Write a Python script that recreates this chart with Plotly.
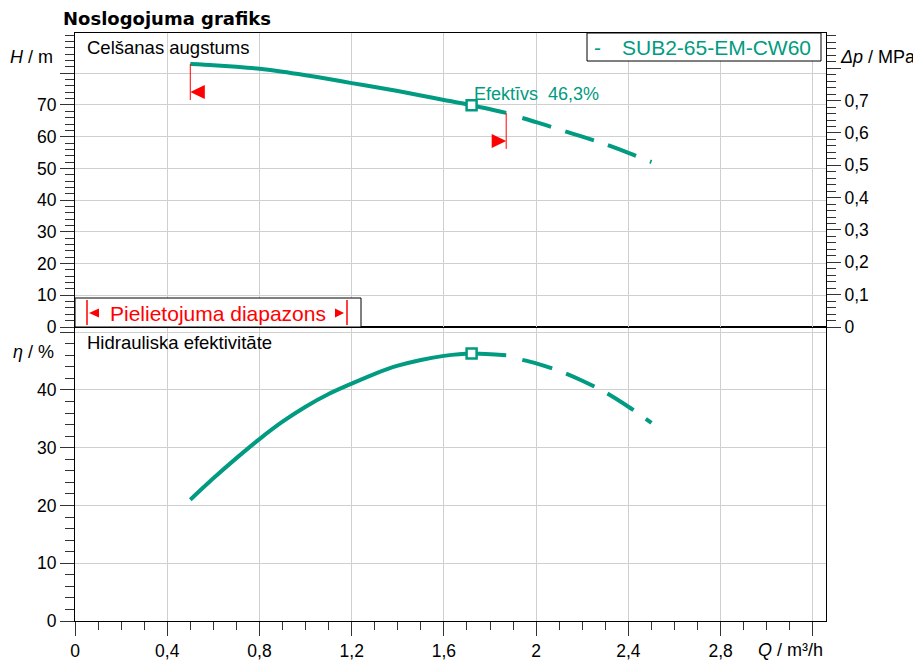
import plotly.graph_objects as go

# ---------------- data ----------------
q_solid = [0.5, 0.6, 0.7, 0.8, 0.9, 1.0, 1.1, 1.2, 1.3, 1.4, 1.5, 1.6, 1.72, 1.87]
h_solid = [82.9, 82.55, 82.05, 81.4, 80.5, 79.4, 78.2, 76.9, 75.7, 74.4, 73.0, 71.6, 69.9, 67.5]
eta_solid = [21.0, 24.7, 28.2, 31.5, 34.5, 37.1, 39.3, 41.1, 42.8, 44.2, 45.2, 45.9, 46.3, 46.0]

q_dash = [1.94, 2.0, 2.1, 2.2, 2.3, 2.4, 2.5]
h_dash = [65.9, 64.6, 62.3, 60.0, 57.6, 54.9, 52.0]
eta_dash = [45.2, 44.6, 43.3, 41.6, 39.6, 37.1, 34.3]

bep_q = [1.72]
bep_h = [69.9]
bep_eta = [46.3]

series_name = "SUB2-65-EM-CW60"
title_text = "Noslogojuma grafiks"

x_tickvals = [0, 0.4, 0.8, 1.2, 1.6, 2.0, 2.4, 2.8, 3.2]
x_ticktext = ["0", "0,4", "0,8", "1,2", "1,6", "2", "2,4", "2,8", ""]
h_tickvals = [0, 10, 20, 30, 40, 50, 60, 70, 80]
h_ticktext = ["0", "10", "20", "30", "40", "50", "60", "70", ""]
p_tickvals = [0, 0.1, 0.2, 0.3, 0.4, 0.5, 0.6, 0.7, 0.8]
p_ticktext = ["0", "0,1", "0,2", "0,3", "0,4", "0,5", "0,6", "0,7", ""]
eta_tickvals = [0, 10, 20, 30, 40, 50]
eta_ticktext = ["0", "10", "20", "30", "40", ""]

# ---------------- geometry (reference pixel frame) ----------------
W, H = 921, 663
OFF = 8                      # page body margin of the browser
FW, FH = W - OFF, H - OFF    # figure size so that it ends at the window edge
PL, PR, PT, PB = 75, 826, 33, 621
X_MAX = 3.257
H_MAX = 92.7
ETA_MAX = 50.9
M_PER_MPA = 101.97

TEAL = "#009b80"
RED = "#ff0000"
GRID = "#cfcfcf"
FONT = "Liberation Sans, Arial, sans-serif"
TICKF = dict(family=FONT, size=17.5, color="#000")


def fx(px):
    return (px - PL) / (PR - PL)


def fy(py):
    return (PB - py) / (PB - PT)


dq = X_MAX / (PR - PL)          # data units per px (x)
dh = H_MAX / ((PB - PT) / 2)    # data units per px (top y)

fig = go.Figure()

line_solid = dict(color=TEAL, width=4, shape="spline", smoothing=0.8)
bep_marker = dict(symbol="square", size=10, color="white", line=dict(color=TEAL, width=2.5))

# top: head
fig.add_trace(go.Scatter(x=q_solid, y=h_solid, xaxis="x2", yaxis="y2", mode="lines",
                         line=line_solid, showlegend=False, hoverinfo="skip"))
fig.add_trace(go.Scatter(x=q_dash, y=h_dash, xaxis="x2", yaxis="y2", mode="lines",
                         line=dict(line_solid, dash="30px,15px"), showlegend=False, hoverinfo="skip"))
fig.add_trace(go.Scatter(x=bep_q, y=bep_h, xaxis="x2", yaxis="y2", mode="markers",
                         marker=bep_marker, showlegend=False, hoverinfo="skip"))
# dummy for right axis
fig.add_trace(go.Scatter(x=[None], y=[None], xaxis="x2", yaxis="y3", mode="lines",
                         showlegend=False, hoverinfo="skip"))
# bottom: efficiency
fig.add_trace(go.Scatter(x=q_solid, y=eta_solid, xaxis="x", yaxis="y", mode="lines",
                         line=line_solid, showlegend=False, hoverinfo="skip"))
fig.add_trace(go.Scatter(x=q_dash, y=eta_dash, xaxis="x", yaxis="y", mode="lines",
                         line=dict(line_solid, dash="31px,15px"), showlegend=False, hoverinfo="skip"))
fig.add_trace(go.Scatter(x=bep_q, y=bep_eta, xaxis="x", yaxis="y", mode="markers",
                         marker=bep_marker, showlegend=False, hoverinfo="skip"))

common_axis = dict(showline=True, linecolor="#000", linewidth=1, zeroline=False,
                   gridcolor=GRID, gridwidth=1, tickfont=TICKF, tickcolor="#333",
                   automargin=False)

fig.update_layout(
    width=FW, height=FH,
    margin=dict(l=PL - OFF, r=W - PR, t=PT - OFF, b=H - PB, pad=0, autoexpand=False),
    paper_bgcolor="white", plot_bgcolor="white",
    showlegend=False,
    title=dict(text="<b>" + title_text + "</b>", x=(63 - OFF) / FW, y=1 - (18.5 - OFF) / FH,
               xanchor="left", yanchor="middle", xref="container", yref="container",
               font=dict(family="DejaVu Sans, Verdana, sans-serif", size=18, color="#000")),
    xaxis=dict(common_axis, domain=[0, 1], anchor="y", range=[0, X_MAX], mirror=True,
               tickmode="array", tickvals=x_tickvals, ticktext=x_ticktext,
               ticks="outside", ticklen=14, tickwidth=1, showgrid=True,
               minor=dict(dtick=0.1, tick0=0, ticks="outside", ticklen=8, tickcolor="#333",
                          showgrid=False)),
    yaxis=dict(common_axis, domain=[0, 0.5], anchor="x", range=[0, ETA_MAX], mirror=True,
               tickmode="array", tickvals=eta_tickvals, ticktext=eta_ticktext,
               ticks="outside", ticklen=14, tickwidth=1, showgrid=True,
               minor=dict(dtick=2, tick0=0, ticks="outside", ticklen=9, tickcolor="#333",
                          showgrid=False)),
    xaxis2=dict(common_axis, domain=[0, 1], anchor="y2", range=[0, X_MAX], mirror=True,
                matches="x", tickmode="array", tickvals=x_tickvals, showticklabels=False,
                ticks="", showgrid=True),
    yaxis2=dict(common_axis, domain=[0.5, 1], anchor="x2", range=[0, H_MAX], mirror=True,
                tickmode="array", tickvals=h_tickvals, ticktext=h_ticktext,
                ticks="outside", ticklen=14, tickwidth=1, showgrid=True,
                minor=dict(dtick=2, tick0=0, ticks="outside", ticklen=9, tickcolor="#333",
                           showgrid=False)),
    yaxis3=dict(common_axis, overlaying="y2", anchor="x2", side="right",
                range=[0, H_MAX / M_PER_MPA], showgrid=False,
                tickmode="array", tickvals=p_tickvals, ticktext=p_ticktext,
                ticks="outside", ticklen=14, tickwidth=1,
                minor=dict(dtick=0.02, tick0=0, ticks="outside", ticklen=9, tickcolor="#333",
                           showgrid=False)),
)

shapes = []
annotations = []

# operating range markers on head curve
q0, h0 = q_solid[0], h_solid[0]
q1, h1 = q_solid[-1], h_solid[-1]
for qq, hh, direction in [(q0, h0, 1), (q1, h1, -1)]:
    shapes.append(dict(type="line", xref="x2", yref="y2", x0=qq, x1=qq, y0=hh, y1=hh - 36 * dh,
                       line=dict(color=RED, width=1)))
    yc = hh - 28 * dh
    bx = qq + direction * 14.5 * dq
    shapes.append(dict(type="path", xref="x2", yref="y2",
                       path=f"M {qq} {yc} L {bx} {yc + 7 * dh} L {bx} {yc - 7 * dh} Z",
                       fillcolor=RED, line=dict(color=RED, width=0)))

# application range box
shapes.append(dict(type="rect", xref="paper", yref="paper", x0=0, x1=fx(361), y0=fy(327), y1=fy(298),
                   fillcolor="white", line=dict(color="#000", width=1), layer="above"))
for xp in (87, 347):
    shapes.append(dict(type="line", xref="paper", yref="paper", x0=fx(xp), x1=fx(xp),
                       y0=fy(300), y1=fy(325), line=dict(color=RED, width=1.5)))
shapes.append(dict(type="path", xref="paper", yref="paper",
                   path=f"M {fx(89)} {fy(313)} L {fx(99)} {fy(308.5)} L {fx(99)} {fy(317.5)} Z",
                   fillcolor=RED, line=dict(width=0)))
shapes.append(dict(type="path", xref="paper", yref="paper",
                   path=f"M {fx(344)} {fy(313)} L {fx(335)} {fy(308.5)} L {fx(335)} {fy(317.5)} Z",
                   fillcolor=RED, line=dict(width=0)))
annotations.append(dict(text="Pielietojuma diapazons", xref="paper", yref="paper",
                        x=fx(108), y=fy(313), xanchor="left", yanchor="middle", showarrow=False,
                        font=dict(family=FONT, size=21, color=RED)))

# legend box
shapes.append(dict(type="rect", xref="paper", yref="paper", x0=fx(587), x1=fx(821), y0=fy(61), y1=fy(33),
                   fillcolor="white", line=dict(color="#000", width=1), layer="above"))
annotations.append(dict(text="-", xref="paper", yref="paper", x=fx(592), y=fy(47),
                        xanchor="left", yanchor="middle", showarrow=False,
                        font=dict(family=FONT, size=21, color=TEAL)))
annotations.append(dict(text=series_name, xref="paper", yref="paper", x=fx(620), y=fy(47),
                        xanchor="left", yanchor="middle", showarrow=False,
                        font=dict(family=FONT, size=21, color=TEAL)))

# panel titles
annotations.append(dict(text="Celšanas augstums", xref="paper", yref="paper", x=fx(85), y=fy(47),
                        xanchor="left", yanchor="middle", showarrow=False,
                        font=dict(family=FONT, size=18.5, color="#000")))
annotations.append(dict(text="Hidrauliska efektivitāte", xref="paper", yref="paper", x=fx(85), y=fy(342),
                        xanchor="left", yanchor="middle", showarrow=False,
                        font=dict(family=FONT, size=18.5, color="#000")))

# axis labels
annotations.append(dict(text="<i>H</i> / m", xref="paper", yref="paper", x=fx(55), y=fy(57),
                        xanchor="right", yanchor="middle", showarrow=False,
                        font=dict(family=FONT, size=18, color="#000")))
annotations.append(dict(text="<i>Δp</i> / MPa", xref="paper", yref="paper", x=fx(838), y=fy(57),
                        xanchor="left", yanchor="middle", showarrow=False,
                        font=dict(family=FONT, size=18, color="#000")))
annotations.append(dict(text="<i>η</i> / %", xref="paper", yref="paper", x=fx(56), y=fy(352),
                        xanchor="right", yanchor="middle", showarrow=False,
                        font=dict(family=FONT, size=18, color="#000")))
annotations.append(dict(text="<i>Q</i> / m³/h", xref="paper", yref="paper", x=fx(825), y=fy(650),
                        xanchor="right", yanchor="middle", showarrow=False,
                        font=dict(family=FONT, size=18, color="#000")))

# efficiency label at BEP
eff_txt = f"Efektīvs  {bep_eta[0]:.1f}%".replace(".", ",")
annotations.append(dict(text=eff_txt, xref="x2", yref="y2", x=bep_q[0], y=bep_h[0],
                        xanchor="left", yanchor="middle", yshift=11, xshift=0, showarrow=False,
                        font=dict(family=FONT, size=18, color=TEAL)))

fig.update_layout(shapes=shapes, annotations=annotations)

fig.write_html("out.html")
